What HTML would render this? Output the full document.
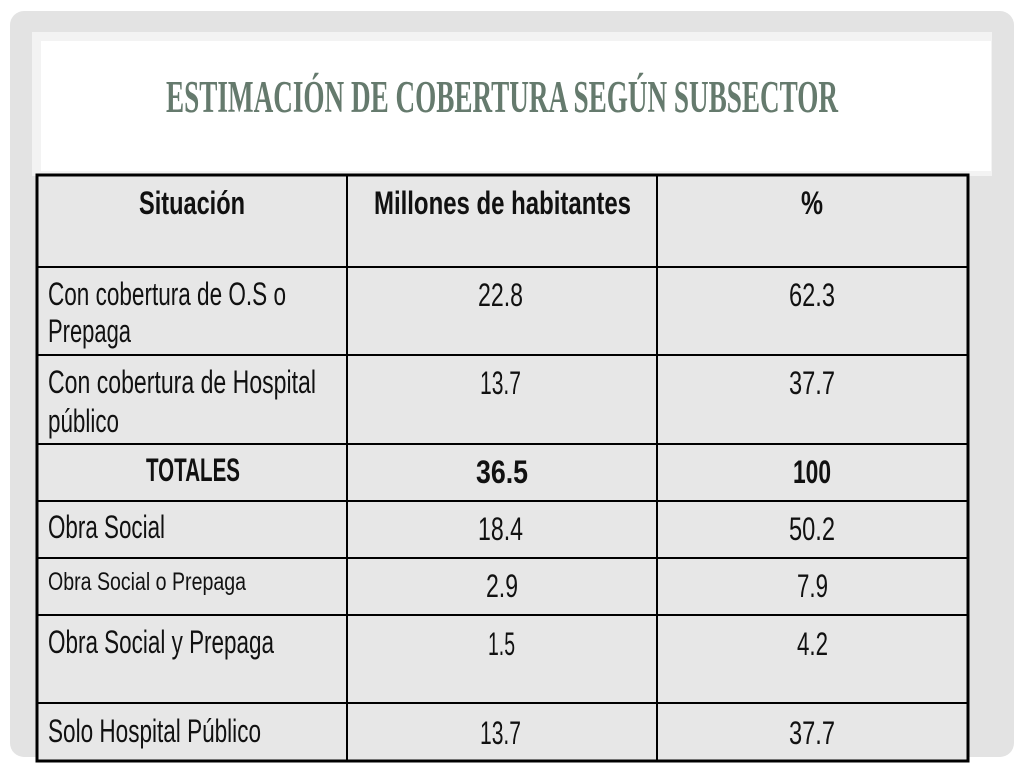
<!DOCTYPE html>
<html><head><meta charset="utf-8"><style>html,body{margin:0;padding:0;background:#fff}svg{display:block}</style></head>
<body>
<svg width="1024" height="768" viewBox="0 0 1024 768" xmlns="http://www.w3.org/2000/svg">
<rect x="10" y="11" width="1004" height="746" rx="14" fill="#e3e3e3"/>
<rect x="32" y="32" width="960" height="144" fill="#f3f3f3"/>
<rect x="41" y="41" width="950" height="130" fill="#ffffff"/>
<text x="166" y="112" textLength="672" lengthAdjust="spacingAndGlyphs" font-family="Liberation Serif, serif" font-weight="bold" font-size="45" fill="#657a6d">ESTIMACIÓN DE COBERTURA SEGÚN SUBSECTOR</text>
<g>
<rect x="37" y="175" width="931" height="586" fill="#e7e7e7"/>
<g stroke="#000" stroke-width="2">
<line x1="347" y1="175" x2="347" y2="761"/><line x1="657" y1="175" x2="657" y2="761"/>
<line x1="37" y1="267" x2="968" y2="267"/><line x1="37" y1="355" x2="968" y2="355"/>
<line x1="37" y1="444" x2="968" y2="444"/><line x1="37" y1="501" x2="968" y2="501"/>
<line x1="37" y1="558" x2="968" y2="558"/><line x1="37" y1="615" x2="968" y2="615"/>
<line x1="37" y1="703" x2="968" y2="703"/>
</g>
<rect x="37" y="175" width="931" height="586" fill="none" stroke="#000" stroke-width="3"/>
<g font-family="Liberation Sans, sans-serif" fill="#111" font-size="32">
<text x="139" y="214" textLength="106" lengthAdjust="spacingAndGlyphs" font-weight="bold">Situación</text>
<text x="374" y="214" textLength="257" lengthAdjust="spacingAndGlyphs" font-weight="bold">Millones de habitantes</text>
<text x="801" y="214" textLength="22" lengthAdjust="spacingAndGlyphs" font-weight="bold">%</text>

<text x="48" y="305" textLength="238" lengthAdjust="spacingAndGlyphs">Con cobertura de O.S o</text>
<text x="48" y="342" textLength="83" lengthAdjust="spacingAndGlyphs">Prepaga</text>
<text x="478" y="306" textLength="45" lengthAdjust="spacingAndGlyphs">22.8</text>
<text x="789" y="306" textLength="46" lengthAdjust="spacingAndGlyphs">62.3</text>

<text x="48" y="393" textLength="268" lengthAdjust="spacingAndGlyphs">Con cobertura de Hospital</text>
<text x="48" y="432" textLength="71" lengthAdjust="spacingAndGlyphs">público</text>
<text x="480" y="394" textLength="41" lengthAdjust="spacingAndGlyphs">13.7</text>
<text x="789" y="394" textLength="46" lengthAdjust="spacingAndGlyphs">37.7</text>

<text x="146" y="481" textLength="94" lengthAdjust="spacingAndGlyphs" font-weight="bold">TOTALES</text>
<text x="476" y="483" textLength="52" lengthAdjust="spacingAndGlyphs" font-weight="bold">36.5</text>
<text x="793" y="483" textLength="38" lengthAdjust="spacingAndGlyphs" font-weight="bold">100</text>

<text x="48" y="538" textLength="117" lengthAdjust="spacingAndGlyphs">Obra Social</text>
<text x="478" y="540" textLength="45" lengthAdjust="spacingAndGlyphs">18.4</text>
<text x="789" y="540" textLength="46" lengthAdjust="spacingAndGlyphs">50.2</text>

<text x="48" y="590" textLength="198" lengthAdjust="spacingAndGlyphs" font-size="25">Obra Social o Prepaga</text>
<text x="486" y="597" textLength="32" lengthAdjust="spacingAndGlyphs">2.9</text>
<text x="797" y="597" textLength="31" lengthAdjust="spacingAndGlyphs">7.9</text>

<text x="48" y="653" textLength="226" lengthAdjust="spacingAndGlyphs">Obra Social y Prepaga</text>
<text x="488" y="655" textLength="27" lengthAdjust="spacingAndGlyphs">1.5</text>
<text x="797" y="655" textLength="31" lengthAdjust="spacingAndGlyphs">4.2</text>

<text x="48" y="742" textLength="213" lengthAdjust="spacingAndGlyphs">Solo Hospital Público</text>
<text x="480" y="744" textLength="41" lengthAdjust="spacingAndGlyphs">13.7</text>
<text x="789" y="744" textLength="46" lengthAdjust="spacingAndGlyphs">37.7</text>
</g>
</g>
</svg>
</body></html>
